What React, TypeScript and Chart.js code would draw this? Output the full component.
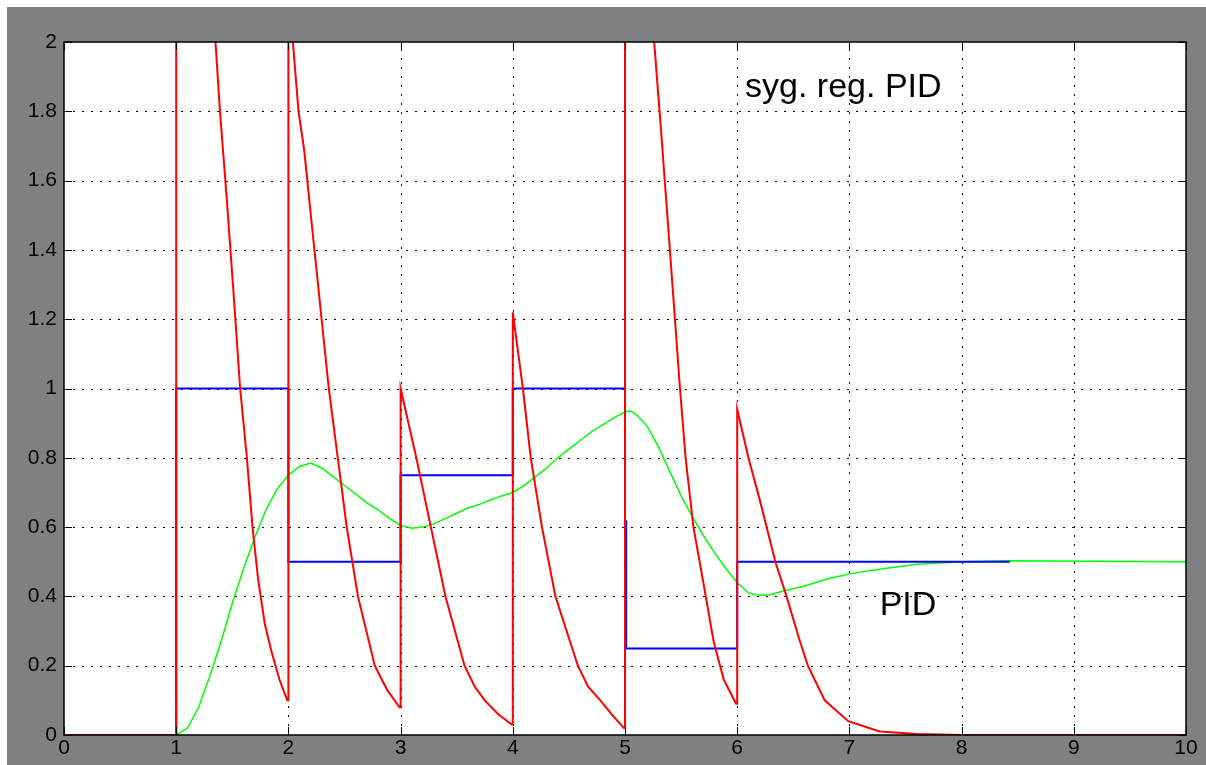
import React, { useEffect, useRef } from "react";
import { Chart, registerables } from "chart.js";

Chart.register(...registerables);

// Control signal (red) – time and value
const redT = [0, 1, 1, 1.3, 1.35, 1.39, 1.45, 1.51, 1.57, 1.63, 1.68, 1.73, 1.79, 1.85, 1.92, 1.99,
  2, 2, 2.03, 2.04, 2.09, 2.14, 2.2, 2.28, 2.36, 2.44, 2.52, 2.62, 2.77, 2.88, 2.99,
  3, 3, 3.14, 3.27, 3.4, 3.57, 3.66, 3.75, 3.87, 3.99,
  4, 4, 4.09, 4.16, 4.26, 4.38, 4.58, 4.67, 4.78, 4.88, 4.99,
  5, 5, 5.2, 5.26, 5.32, 5.4, 5.49, 5.54, 5.61, 5.72, 5.79, 5.88, 5.99,
  6, 6, 6.1, 6.2, 6.34, 6.44, 6.55, 6.63, 6.78, 6.99, 7.27, 7.6, 8, 10];
const redU = [0, 0, 20, 2.25, 2.0, 1.8, 1.55, 1.28, 1.0, 0.8, 0.6, 0.45, 0.32, 0.24, 0.16, 0.1,
  0.1, 20, 2.1, 2.0, 1.8, 1.69, 1.5, 1.25, 1.0, 0.8, 0.6, 0.4, 0.2, 0.13, 0.08,
  0.08, 1.0, 0.8, 0.6, 0.4, 0.2, 0.14, 0.1, 0.06, 0.03,
  0.03, 1.22, 1.0, 0.8, 0.6, 0.4, 0.2, 0.14, 0.1, 0.06, 0.02,
  0.02, 20, 2.5, 2.0, 1.75, 1.4, 1.0, 0.8, 0.6, 0.4, 0.27, 0.16, 0.09,
  0.09, 0.94, 0.8, 0.68, 0.5, 0.4, 0.28, 0.2, 0.1, 0.04, 0.01, 0.003, 0, 0];

// Set point (blue)
const blueT = [0, 1, 1, 2, 2, 3, 3, 4, 4, 5, 5, 5.01, 5.01, 6, 6, 8.43];
const blueV: (number | null)[] = [0, 0, 1, 1, 0.5, 0.5, 0.75, 0.75, 1, 1, null, 0.62, 0.25, 0.25, 0.5, 0.5];

// Plant output (green)
const greenT = [0, 1, 1.1, 1.2, 1.3, 1.4, 1.5, 1.6, 1.7, 1.8, 1.9, 2.0, 2.1, 2.2, 2.3, 2.4, 2.5, 2.6,
  2.7, 2.8, 2.9, 3.0, 3.1, 3.2, 3.3, 3.4, 3.5, 3.6, 3.7, 3.8, 3.9, 4.0, 4.1, 4.2, 4.3, 4.4, 4.5,
  4.6, 4.7, 4.8, 4.9, 5.0, 5.05, 5.1, 5.2, 5.3, 5.4, 5.5, 5.6, 5.7, 5.8, 5.9, 6.0, 6.1, 6.2, 6.3,
  6.4, 6.6, 6.8, 7.0, 7.3, 7.6, 8.0, 8.4, 10];
const greenY = [0, 0, 0.02, 0.08, 0.17, 0.27, 0.38, 0.48, 0.57, 0.65, 0.71, 0.75, 0.775, 0.785, 0.77,
  0.745, 0.72, 0.695, 0.67, 0.65, 0.625, 0.605, 0.597, 0.6, 0.61, 0.625, 0.64, 0.655, 0.665, 0.678,
  0.69, 0.7, 0.72, 0.745, 0.77, 0.8, 0.825, 0.85, 0.875, 0.895, 0.915, 0.932, 0.935, 0.925, 0.89,
  0.83, 0.76, 0.69, 0.63, 0.575, 0.525, 0.48, 0.44, 0.41, 0.403, 0.405, 0.415, 0.43, 0.45, 0.465,
  0.48, 0.493, 0.5, 0.503, 0.5];

const xTicks = [0, 1, 2, 3, 4, 5, 6, 7, 8, 9, 10];
const yTicks = [0, 0.2, 0.4, 0.6, 0.8, 1, 1.2, 1.4, 1.6, 1.8, 2];

const labels = [
  { text: "syg. reg. PID", x: 6.07, y: 1.84 },
  { text: "PID", x: 7.27, y: 0.345 },
];

const toPts = (t: number[], v: (number | null)[]) => t.map((x, i) => ({ x, y: v[i] }));

const scopePlugin = {
  id: "scope",
  beforeDatasetsDraw(chart: any) {
    const { ctx, chartArea: a, scales } = chart;
    ctx.save();
    ctx.fillStyle = "#ffffff";
    ctx.fillRect(a.left, a.top, a.right - a.left, a.bottom - a.top);
    ctx.strokeStyle = "#000";
    ctx.lineWidth = 1;
    ctx.setLineDash([2, 7]);
    xTicks.slice(1, -1).forEach((v) => {
      const px = Math.round(scales.x.getPixelForValue(v)) + 0.5;
      ctx.beginPath();
      ctx.moveTo(px, a.bottom);
      ctx.lineTo(px, a.top);
      ctx.stroke();
    });
    yTicks.slice(1, -1).forEach((v) => {
      const py = Math.round(scales.y.getPixelForValue(v)) + 0.5;
      ctx.beginPath();
      ctx.moveTo(a.left, py);
      ctx.lineTo(a.right, py);
      ctx.stroke();
    });
    ctx.restore();
  },
  afterDatasetsDraw(chart: any) {
    const { ctx, chartArea: a, scales } = chart;
    ctx.save();
    ctx.strokeStyle = "#000";
    ctx.lineWidth = 1.5;
    ctx.setLineDash([]);
    ctx.strokeRect(a.left, a.top, a.right - a.left, a.bottom - a.top);
    ctx.lineWidth = 1;
    const tl = 8;
    xTicks.forEach((v) => {
      const px = Math.round(scales.x.getPixelForValue(v)) + 0.5;
      ctx.beginPath();
      ctx.moveTo(px, a.bottom);
      ctx.lineTo(px, a.bottom - tl);
      ctx.moveTo(px, a.top);
      ctx.lineTo(px, a.top + tl);
      ctx.stroke();
    });
    yTicks.forEach((v) => {
      const py = Math.round(scales.y.getPixelForValue(v)) + 0.5;
      ctx.beginPath();
      ctx.moveTo(a.left, py);
      ctx.lineTo(a.left + tl, py);
      ctx.moveTo(a.right, py);
      ctx.lineTo(a.right - tl, py);
      ctx.stroke();
    });
    ctx.fillStyle = "#000";
    ctx.font = "34px Arial, 'Liberation Sans', sans-serif";
    ctx.textAlign = "left";
    ctx.textBaseline = "alphabetic";
    labels.forEach((l) => {
      ctx.fillText(l.text, scales.x.getPixelForValue(l.x), scales.y.getPixelForValue(l.y));
    });
    ctx.restore();
  },
};

export default function App() {
  const ref = useRef<HTMLCanvasElement>(null);
  useEffect(() => {
    if (!ref.current) return;
    const chart = new Chart(ref.current, {
      type: "line",
      data: {
        datasets: [
          {
            data: toPts(redT, redU) as any,
            borderColor: "#ff0000",
            borderWidth: 2,
            pointRadius: 0,
            tension: 0,
            clip: 0 as any,
          },
          {
            data: toPts(blueT, blueV) as any,
            borderColor: "#0000ff",
            borderWidth: 2,
            pointRadius: 0,
            tension: 0,
            spanGaps: false,
            clip: 0 as any,
          },
          {
            data: toPts(greenT, greenY) as any,
            borderColor: "#00ff00",
            borderWidth: 1.5,
            pointRadius: 0,
            tension: 0,
            clip: 0 as any,
          },
        ],
      },
      options: {
        animation: false,
        responsive: false,
        devicePixelRatio: 1,
        layout: { padding: { left: 0, top: 35, right: 20, bottom: 0 } },
        plugins: { legend: { display: false }, tooltip: { enabled: false }, title: { display: false } },
        events: [],
        scales: {
          x: {
            type: "linear",
            min: 0,
            max: 10,
            afterBuildTicks: (s: any) => {
              s.ticks = xTicks.map((v) => ({ value: v }));
            },
            afterFit: (s: any) => {
              s.height = 30;
            },
            ticks: {
              color: "#000",
              font: { size: 21, family: "Arial, 'Liberation Sans', sans-serif" },
              padding: 1,
              maxRotation: 0,
              autoSkip: false,
              callback: (v: any) => String(v),
            },
            grid: { display: false, drawTicks: false },
            border: { display: false },
          },
          y: {
            type: "linear",
            min: 0,
            max: 2,
            afterBuildTicks: (s: any) => {
              s.ticks = yTicks.map((v) => ({ value: v }));
            },
            afterFit: (s: any) => {
              s.width = 57;
            },
            ticks: {
              color: "#000",
              font: { size: 21, family: "Arial, 'Liberation Sans', sans-serif" },
              padding: 7,
              autoSkip: false,
              callback: (v: any) => String(Math.round(Number(v) * 10) / 10),
            },
            grid: { display: false, drawTicks: false },
            border: { display: false },
          },
        },
      },
      plugins: [scopePlugin],
    });
    return () => chart.destroy();
  }, []);
  return (
    <div style={{ position: "absolute", left: 0, top: 0, width: 1206, height: 765, background: "#ffffff", overflow: "hidden" }}>
      <div style={{ position: "absolute", left: 7, top: 7, width: 1199, height: 758, background: "#808080" }}>
        <canvas ref={ref} width={1199} height={758} style={{ display: "block", width: 1199, height: 758 }} />
      </div>
    </div>
  );
}
